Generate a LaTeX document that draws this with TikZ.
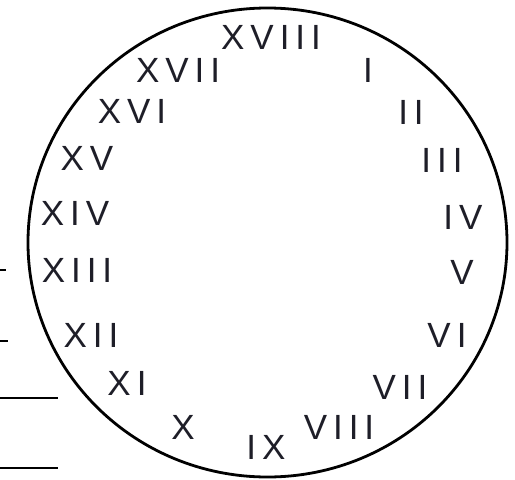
\documentclass[tikz,border=0pt]{standalone}
\usepackage{fontspec}
\usepackage{tikz}
\usetikzlibrary{positioning, calc}
\usepackage{xcolor}
\newfontfamily\numfont[LetterSpace=17]{Liberation Sans}
\definecolor{inkgray}{RGB}{30,30,40}

\begin{document}
\begin{tikzpicture}[x=1pt, y=-1pt,
  numeral/.style={font=\numfont\fontsize{35}{35}\selectfont, inner sep=0pt, text=inkgray},
  blank/.style={line width=1.8pt}]
  \useasboundingbox (0,0) rectangle (515,480);
  % dial
  \draw[line width=2.8pt] (267.5,242.5) ellipse [x radius=239.5, y radius=234.5];
  % numerals round the dial
  \foreach \lab/\px/\py [count=\i] in {I/368/70, II/411/112, III/442/160, IV/463/217,
      V/462/272, VI/447/335, VII/400/387, VIII/339/427, IX/266/447, X/183/427,
      XI/127/383, XII/91/335, XIII/77/270, XIV/75/213, XV/87/158, XVI/132/111,
      XVII/178/70, XVIII/271/37}
    \node[numeral] (n\i) at (\px,\py) {\lab};
  % answer lines on the left
  \coordinate (a1) at (0,270);  \coordinate (b1) at (6,270);
  \coordinate (a2) at (0,341);  \coordinate (b2) at (8,341);
  \coordinate (a3) at (0,398);  \coordinate (b3) at (58,398);
  \coordinate (a4) at (0,468);  \coordinate (b4) at (58,468);
  \foreach \k in {1,...,4}
    \draw[blank] (a\k) -- (b\k);
\end{tikzpicture}
\end{document}
